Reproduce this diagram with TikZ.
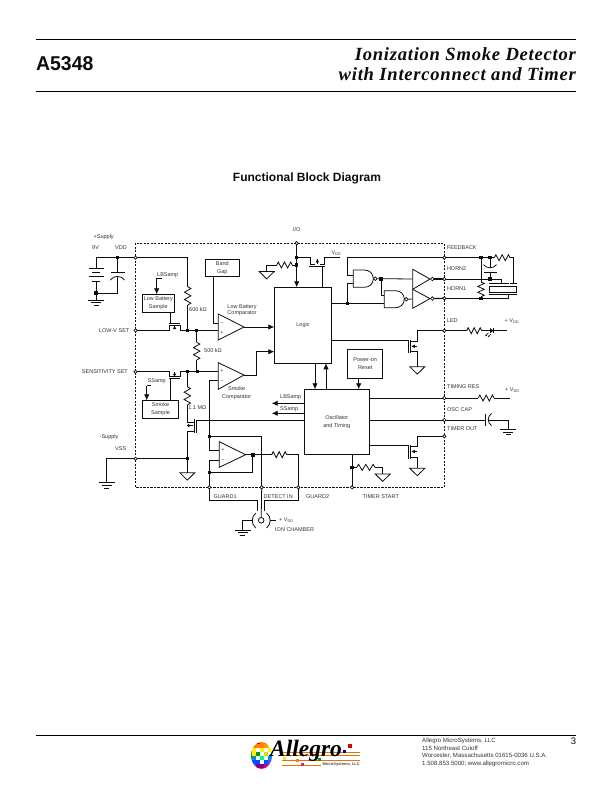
\documentclass[tikz,border=0pt]{standalone}
\usepackage{fontspec}
\setmainfont{Liberation Sans}
\newfontfamily\serifbi{Liberation Serif}[BoldItalicFont={* Bold Italic}]
\newfontfamily\serifwide{Liberation Serif}[BoldItalicFont={* Bold Italic},LetterSpace=4]
\usetikzlibrary{arrows.meta,calc,shapes.geometric}
\definecolor{ink}{gray}{0.05}
\definecolor{labelgray}{gray}{0.2}
\tikzset{
  wire/.style={draw=ink,line width=0.8pt},
  boxed/.style={draw=ink,line width=0.8pt,fill=white},
  lbl/.style={font=\fontsize{5.5}{6.7}\selectfont,text=labelgray,inner sep=0pt,align=center},
  lbll/.style={lbl,anchor=west},
  lblr/.style={lbl,anchor=east},
  pin/.style={circle,draw=ink,fill=white,line width=0.7pt,minimum size=3.4pt,inner sep=0pt},
  junction/.style={rectangle,fill=ink,minimum size=3.4pt,inner sep=0pt},
  bubble/.style={circle,draw=ink,fill=white,line width=0.7pt,minimum size=3.6pt,inner sep=0pt},
  sig/.style={wire,-{Latex[length=6pt,width=5.4pt]}},
  tri/.style={draw=ink,line width=0.8pt,fill=white,line join=miter},
}
% zig-zag resistors between two named points
\newcommand{\resH}[2]{\draw[wire] (#1) -- ($(#1)!0.1!(#2)+(0,-3)$) -- ($(#1)!0.3!(#2)+(0,3)$) -- ($(#1)!0.5!(#2)+(0,-3)$) -- ($(#1)!0.7!(#2)+(0,3)$) -- ($(#1)!0.9!(#2)+(0,-3)$) -- (#2);}
\newcommand{\resV}[2]{\draw[wire] (#1) -- ($(#1)!0.1!(#2)+(3.2,0)$) -- ($(#1)!0.3!(#2)+(-3.2,0)$) -- ($(#1)!0.5!(#2)+(3.2,0)$) -- ($(#1)!0.7!(#2)+(-3.2,0)$) -- ($(#1)!0.9!(#2)+(3.2,0)$) -- (#2);}
% three-plate earth and open-triangle logic ground
\newcommand{\earth}[1]{\draw[wire] ($(#1)+(-8,0)$) -- ++(16,0) ($(#1)+(-5,2.6)$) -- ++(10,0) ($(#1)+(-2.5,5.2)$) -- ++(5,0);}
\newcommand{\trignd}[1]{\draw[wire] ($(#1)+(-7.5,0)$) -- ++(15,0) -- ($(#1)+(0,7.4)$) -- cycle;}
% gate symbols
\newcommand{\nandgate}[5]{% name, left x, top y, bottom y, tip x
  \draw[tri] (#2,#3) -- ({#5-9},#3) .. controls ({#5-3.5},#3) and (#5,{#3+(#4-#3)*0.22}) .. (#5,{(#3+#4)/2}) .. controls (#5,{#4-(#4-#3)*0.22}) and ({#5-3.5},#4) .. ({#5-9},#4) -- (#2,#4) -- cycle;
  \node[bubble] (#1) at ({#5+2},{(#3+#4)/2}) {};}
\newcommand{\opamp}[5]{% left x, top y, bottom y, tip x, tip y
  \draw[tri] (#1,#2) -- (#4,#5) -- (#1,#3) -- cycle;}
\begin{document}
\begin{tikzpicture}[x=1pt,y=-1pt]
\useasboundingbox (0,0) rectangle (612,792);
\fill[white] (0,0) rectangle (612,792);

% page header
\draw[black,line width=0.8pt] (36,39) -- (576,39) (36,91.5) -- (576,91.5);
\node[anchor=west,inner sep=0pt,font=\fontsize{20}{22}\selectfont\bfseries,text=ink,xscale=0.97] (partno) at (36,63.5) {A5348};
\node[anchor=east,inner sep=0pt,font=\fontsize{18.6}{20}\serifwide\bfseries\itshape,text=ink] (titlea) at (576,54.5) {Ionization Smoke Detector};
\node[anchor=east,inner sep=0pt,font=\fontsize{18.6}{20}\serifwide\bfseries\itshape,text=ink] (titleb) at (576,74.5) {with Interconnect and Timer};
\node[inner sep=0pt,font=\fontsize{12}{14}\selectfont\bfseries,text=ink] (heading) at (307,178) {Functional Block Diagram};

% chip outline
\draw[ink,line width=0.8pt,dash pattern=on 2.2pt off 1.3pt] (135.5,243.2) rectangle (444.3,487.3);

% named points
\coordinate (pVDD) at (135.5,257.7);
\coordinate (pLOWV) at (135.5,330.3);
\coordinate (pSENS) at (135.5,371.7);
\coordinate (pVSS) at (135.5,458.7);
\coordinate (pIO) at (296.7,243.2);
\coordinate (pFB) at (444.3,257.7);
\coordinate (pH2) at (444.3,279);
\coordinate (pH1) at (444.3,298.3);
\coordinate (pLED) at (444.3,330.7);
\coordinate (pTR) at (444.3,398);
\coordinate (pOC) at (444.3,420);
\coordinate (pTO) at (444.3,436.3);
\coordinate (pG1) at (209.3,487.3);
\coordinate (pDI) at (261.7,487.3);
\coordinate (pG2) at (298.3,487.3);
\coordinate (pTS) at (352,487.3);

% supply, battery and filter capacitor
\draw[wire] (96,257.7) -- (pVDD);
\draw[wire] (96,257.7) -- (96,268.5) (88.5,268.5) -- (103.5,268.5) (92,272.8) -- (100,272.8) (88.5,276.8) -- (103.5,276.8) (92,281) -- (100,281) (96,281) -- (96,300);
\earth{96,300}
\draw[wire] (117.3,257.7) -- (117.3,272.3) (110.5,272.3) -- (124.5,272.3);
\draw[wire] (110.5,280) .. controls (113,275.2) and (121.5,275.2) .. (124.5,280);
\draw[wire] (117.3,276.4) -- (117.3,293.2) -- (96,293.2);
\node[junction] (j1) at (117.3,257.7) {};
\node[junction,minimum size=4pt] (j2) at (96,292.8) {};
\draw[wire] (pVDD) -- (187.7,257.7) -- (187.7,286.7);
\resV{187.7,286.7}{187.7,305}
\draw[wire] (187.7,305) -- (187.7,330.3);

% low battery section
\node[boxed,minimum width=32pt,minimum height=18pt,inner sep=0pt,lbl,text=labelgray] (lbs) at (158.3,303.3) {Low Battery\\[0.6pt]Sample};
\draw[wire] (pLOWV) -- (169.3,330.3) -- (169.3,325.4) -- (180,325.4) -- (180,330.3) -- (218.3,330.3);
\draw[wire] (169.3,323.4) -- (180,323.4);
\draw[wire] (170.3,312.3) -- (170.3,323.4);
\draw[wire] (174.6,325.4) -- (174.6,329);
\fill[ink] (172.9,329) -- (176.3,329) -- (174.6,326) -- cycle;
\draw[wire] (156.7,278) -- (161.5,278);
\draw[sig] (156.7,278) -- (156.7,294.3);
\node[lbll] (lbsamp) at (157,275) {LBSamp};
\node[lbll] (r600) at (189,309.2) {600 kΩ};
\node[lbll] (r500) at (204,351) {500 kΩ};
\node[lbl] (lbc) at (242,310.2) {Low Battery\\Comparator};
\node[junction] (j3) at (187.7,330.3) {};
\node[junction] (j4) at (196.7,330.3) {};
\draw[wire] (196.7,330.3) -- (196.7,342.3);
\resV{196.7,342.3}{196.7,360}
\draw[wire] (196.7,360) -- (196.7,371.7);

% band gap reference
\node[boxed,minimum width=34pt,minimum height=17.4pt,inner sep=0pt,lbl,text=labelgray] (bg) at (222.3,268) {Band\\[0.8pt]Gap};
\draw[wire] (213.3,276.7) -- (213.3,323.7) -- (218.3,323.7);

% comparators
\opamp{218.3}{314}{340}{244}{327}
\node[lbl] at (222,323.7) {−};
\node[lbl] at (222,332.5) {+};
\draw[sig] (244,327) -- (274.3,327);
\opamp{218.3}{362.7}{389.3}{244}{375}
\node[lbl] at (222,370.5) {+};
\node[lbl] at (222,381) {−};
\draw[sig] (244,375) -- (256.7,375) -- (256.7,351.7) -- (274.3,351.7);

% sensitivity section
\draw[wire] (pSENS) -- (169.3,371.7) -- (169.3,376.6) -- (180,376.6) -- (180,371.7) -- (218.3,371.7);
\draw[wire] (169.3,378.6) -- (180,378.6);
\draw[wire] (174.6,372) -- (174.6,376);
\fill[ink] (172.9,375.2) -- (176.3,375.2) -- (174.6,372.2) -- cycle;
\node[boxed,minimum width=36.4pt,minimum height=18.4pt,inner sep=0pt,lbl,text=labelgray] (ssb) at (160.5,409.5) {Smoke\\[1.2pt]Sample};
\draw[wire] (170.7,378.6) -- (170.7,400.3);
\draw[wire] (151,385.5) -- (146.7,385.5);
\draw[sig] (146.7,385.5) -- (146.7,400.3);
\node[lbll] (ssamp) at (147.5,381) {SSamp};
\node[junction] (j5) at (187.3,371.7) {};
\node[junction] (j6) at (197.3,371.7) {};
\draw[wire] (187.3,371.7) -- (187.3,386.7);
\resV{187.3,386.7}{187.3,405}
\draw[wire] (187.3,405) -- (187.3,422.5) -- (194.4,422.5);
\node[lbll] (r11) at (188.2,408) {1.1 MΩ};
\node[lbl] (sc) at (236.7,393.5) {Smoke\\[1.4pt]Comparator};

% reset transistor below the sensitivity divider
\draw[wire] (194.4,418.5) -- (194.4,432.5) (196.6,420.3) -- (196.6,432.5);
\draw[wire] (196.6,420.3) -- (304.3,420.3);
\draw[wire] (187.3,431.7) -- (194.4,431.7) (187.3,431.7) -- (187.3,472.7);
\draw[wire] (187.3,425.6) -- (193,425.6);
\fill[ink] (187.8,423.8) -- (187.8,427.4) -- (191,425.6) -- cycle;
\trignd{187.3,472.7}
\draw[wire] (pVSS) -- (187.3,458.7);
\node[junction] (j7) at (187.3,458.7) {};
\draw[wire] (pVSS) -- (106.7,458.7) -- (106.7,482.7);
\earth{106.7,482.7}

% guard amplifier and detect input
\draw[wire] (218.3,380) -- (209.3,380) -- (209.3,450.7) -- (219.3,450.7);
\node[junction] (j8) at (209.3,436.7) {};
\draw[wire] (209.3,436.7) -- (261.7,436.7) -- (pDI);
\opamp{219.3}{441.7}{467.3}{245.7}{454.7}
\node[lbl] at (223,449.7) {+};
\node[lbl] at (223,460.2) {−};
\draw[wire] (245.7,454.7) -- (271.7,454.7);
\resH{271.7,454.7}{286.7,454.7}
\draw[wire] (286.7,454.7) -- (298.3,454.7) -- (pG2);
\node[junction,minimum size=4pt] (j9) at (252.7,454.7) {};
\draw[wire] (252.7,454.7) -- (252.7,472.7) -- (209.3,472.7);
\draw[wire] (219.3,460) -- (209.3,460) -- (pG1);
\node[junction] (j10) at (209.3,472.7) {};

% ion chamber
\draw[wire] (pG1) -- (209.3,500.7) -- (257.7,500.7) -- (257.7,511);
\draw[wire] (pG2) -- (298.3,500.7) -- (264.7,500.7) -- (264.7,511);
\draw[wire] (pDI) -- (261.2,517.4);
\draw[wire] (261.2,520.3) circle[radius=2.8];
\draw[wire] (255.8,513) .. controls (251,517) and (251,524) .. (255.8,528);
\draw[wire] (266.6,513) .. controls (271.4,517) and (271.4,524) .. (266.6,528);
\draw[wire] (252.6,520.3) -- (242.7,520.3) -- (242.7,530);
\earth{242.7,530}
\draw[wire] (269.8,520.3) -- (275.7,520.3);
\node[lbll] at (279,520.3) {+ V\textsubscript{\fontsize{3.8}{4}\selectfont DD}};
\node[lbll] at (275,530) {ION CHAMBER};

% logic block and its connections
\node[boxed,minimum width=57.4pt,minimum height=76pt,inner sep=0pt,lbl,text=labelgray] (logic) at (303,325.3) {Logic};
\draw[sig] (pIO) -- (296.7,287.3);
\node[junction] (j11) at (296.7,257.7) {};
\node[junction] (j12) at (296.7,265) {};
\draw[wire] (296.7,265) -- (292.3,265);
\resH{292.3,265}{276.7,265}
\draw[wire] (276.7,265) -- (266.7,265) -- (266.7,271.5);
\trignd{266.7,271.5}

% supply switch above the logic block
\draw[wire] (296.7,257.7) -- (310,257.7) -- (310,264) -- (315,264);
\draw[wire] (320,264) -- (324,264) -- (324,257.7) -- (340,257.7);
\draw[wire] (309.3,266.2) -- (324.6,266.2);
\draw[wire] (322.3,266.2) -- (322.3,287.3);
\draw[wire] (317.3,264) -- (317.3,259);
\fill[ink] (315.6,262.4) -- (319,262.4) -- (317.3,259) -- cycle;
\node[lbll] at (331.4,253) {V\textsubscript{\fontsize{3.8}{4}\selectfont DD}};

% oscillator and power-on reset
\node[boxed,minimum width=65pt,minimum height=65pt,inner sep=0pt,lbl,text=labelgray] (osc) at (336.8,421.8) {Oscillator\\[1.6pt]and Timing};
\node[boxed,minimum width=35pt,minimum height=29pt,inner sep=0pt,lbl,text=labelgray] (por) at (365.2,363.8) {Power-on\\[1.2pt]Reset};
\draw[sig] (315,363.3) -- (315,389.3);
\draw[sig] (326,389.3) -- (326,363.3);
\draw[sig] (358.7,378.3) -- (358.7,389.3);
\draw[sig] (304.3,403.3) -- (271.7,403.3);
\draw[sig] (304.3,413.3) -- (271.7,413.3);
\node[lbll] at (280,397.3) {LBSamp};
\node[lbll] at (280,409.3) {SSamp};

% NAND gates and horn drivers
\draw[wire] (pFB) -- (347.3,257.7) -- (347.3,275.7) -- (353.3,275.7);
\draw[wire] (353.3,283.3) -- (347.3,283.3) -- (347.3,303.3);
\draw[wire] (331.7,303.3) -- (384.3,303.3);
\node[junction] (j13) at (347.3,303.3) {};
\nandgate{b1}{353.3}{270}{287.3}{373.3}
\nandgate{b2}{384.3}{290.7}{307.7}{404.3}
\draw[wire] (b1.east) -- (412.7,279);
\node[junction] (j14) at (381,279) {};
\draw[wire] (381,279) -- (381,295) -- (384.3,295);
\draw[wire] (b2.east) -- (412.7,299);
\draw[tri] (412.7,269.3) -- (430,279) -- (412.7,289.3) -- cycle;
\draw[tri] (412.7,289.3) -- (430,298.6) -- (412.7,308.3) -- cycle;
\node[bubble] (b3) at (432.3,279) {};
\node[bubble] (b4) at (432.3,298.5) {};
\draw[wire,line width=1.2pt] (b3.east) -- (pH2);
\draw[wire,line width=1.2pt] (b4.east) -- (pH1);

% horn network outside the chip
\draw[wire] (pFB) -- (494.3,257.7);
\resH{494.3,257.7}{510,257.7}
\draw[wire] (510,257.7) -- (513.3,257.7) -- (513.3,283.4);
\draw[wire] (pH2) -- (501,279) -- (501,283.4);
\draw[wire] (pH1) -- (508,298.3) -- (508,294.3);
\draw[wire] (481,257.7) -- (481,282);
\resV{481,282}{481,296.7}
\draw[wire] (481,296.7) -- (481,298.3);
\draw[wire] (490,257.7) -- (490,266.8);
\draw[wire] (483.5,264.6) .. controls (486,268.8) and (494,268.8) .. (496.5,264.6);
\draw[wire] (483.5,272.6) -- (496.5,272.6) (490,272.6) -- (490,279);
\draw[wire] (489.3,283.4) -- (508.5,283.4) (510,283.4) -- (516.7,283.4);
\draw[wire] (489.3,294.3) -- (516.7,294.3);
\draw[boxed] (489.3,286) rectangle (516.7,292.3);
\node[junction] (j15) at (481,257.7) {};
\node[junction] (j16) at (490,257.7) {};
\node[junction] (j17) at (490,279) {};
\node[junction] (j18) at (481,298.3) {};

% LED driver
\draw[wire] (331.7,340.3) -- (408.4,340.3);
\draw[wire] (408.4,339.8) -- (408.4,352.5) (410.6,339.8) -- (410.6,352.5);
\draw[wire] (410.6,341.5) -- (417.3,341.5) -- (417.3,330.7) -- (466.7,330.7);
\draw[wire] (410.6,351.3) -- (417.3,351.3) -- (417.3,366.7);
\draw[wire] (411.5,346.3) -- (417.3,346.3);
\fill[ink] (411.5,346.3) -- (414.8,344.6) -- (414.8,348) -- cycle;
\trignd{417.3,366.7}
\resH{466.7,330.7}{481.7,330.7}
\draw[wire] (481.7,330.7) -- (506.7,330.7);
\fill[ink] (490.2,328.2) -- (490.2,333.2) -- (493.4,330.7) -- cycle;
\draw[wire,line width=1pt] (493.6,328) -- (493.6,333.4);
\draw[wire,line width=0.6pt,-{Latex[length=1.8pt,width=1.8pt]}] (491,334) -- (487.7,337.3);
\draw[wire,line width=0.6pt,-{Latex[length=1.8pt,width=1.8pt]}] (488.4,333) -- (485.1,336.3);

% timing pins
\draw[wire] (369.3,398) -- (478.3,398);
\resH{478.3,398}{494,398}
\draw[wire] (494,398) -- (510,398);
\draw[wire] (369.3,420) -- (485.7,420);
\draw[wire] (485.7,413.5) -- (485.7,425.7);
\draw[wire] (491.5,413.5) .. controls (487.2,416.5) and (487.2,422.5) .. (491.5,425.7);
\draw[wire] (488.6,420) -- (508.3,420) -- (508.3,429.3);
\earth{508.3,429.3}
\draw[wire] (369.3,445.3) -- (408.4,445.3);
\draw[wire] (408.4,444.8) -- (408.4,458.5) (410.6,444.8) -- (410.6,458.5);
\draw[wire] (410.6,446.6) -- (417.3,446.6) -- (417.3,436.3) -- (pTO);
\draw[wire] (410.6,457) -- (417.3,457) -- (417.3,468.3);
\draw[wire] (411.5,451.5) -- (417.3,451.5);
\fill[ink] (411.5,451.5) -- (414.8,449.8) -- (414.8,453.2) -- cycle;
\trignd{417.3,468.3}
\draw[wire] (352,454.3) -- (pTS);
\node[junction] (j19) at (352,467.3) {};
\draw[wire] (352,467.3) -- (356.7,467.3);
\resH{356.7,467.3}{375,467.3}
\draw[wire] (375,467.3) -- (382.7,467.3) -- (382.7,474);
\trignd{382.7,474}

% pins on the chip outline
\foreach \p in {pVDD,pLOWV,pSENS,pVSS,pIO,pFB,pH2,pH1,pLED,pTR,pOC,pTO,pG1,pDI,pG2,pTS}
  \node[pin] at (\p) {};

% pin labels
\node[lbll] at (93.5,237) {+Supply};
\node[lbll] at (92,247.5) {9V};
\node[lbll] at (115,247.5) {VDD};
\node[lblr] at (129.5,330.5) {LOW-V SET};
\node[lblr] at (128,371.7) {SENSITIVITY SET};
\node[lbll] at (99.5,437) {-Supply};
\node[lbll] at (115,449) {VSS};
\node[lbl] at (296.7,230) {I/O};
\node[lbll] at (446.8,247.7) {FEEDBACK};
\node[lbll] at (446.8,269) {HORN2};
\node[lbll] at (446.8,289) {HORN1};
\node[lbll] at (446.8,321) {LED};
\node[lbll] at (447,387) {TIMING RES};
\node[lbll] at (447,409.5) {OSC CAP};
\node[lbll] at (447,428.5) {TIMER OUT};
\node[lbll] at (213.5,497) {GUARD1};
\node[lbll] at (263.5,497) {DETECT IN};
\node[lbll] at (306,497) {GUARD2};
\node[lbll] at (362.5,497) {TIMER START};
\node[lbll] at (504.5,321.5) {+ V\textsubscript{\fontsize{3.8}{4}\selectfont DD}};
\node[lbll] at (505,390.5) {+ V\textsubscript{\fontsize{3.8}{4}\selectfont DD}};

% page footer
\draw[black,line width=0.8pt] (36,735.5) -- (576,735.5);
\node[anchor=north west,inner sep=0pt,align=left,font=\fontsize{6.1}{7.4}\selectfont,text=labelgray] (addr) at (422,738.2) {Allegro MicroSystems, LLC\\115 Northeast Cutoff\\Worcester, Massachusetts 01615-0036 U.S.A.\\1.508.853.5000; www.allegromicro.com};
\node[inner sep=0pt,font=\fontsize{9.5}{10}\selectfont,text=ink] (pageno) at (573.5,741.5) {3};

% company logo: mosaic disc, rules, accent squares and wordmark
\begin{scope}
\clip (261.5,755.5) ellipse[x radius=10.5,y radius=13.5];
\foreach \x/\y/\c in {
 250/742/red,254/742/red,258/742/red,262/742/orange,266/742/orange,270/742/orange,
 250/746/red,254/746/orange,258/746/orange,262/746/orange,266/746/orange!80!yellow,270/746/yellow,
 250/750/magenta!80!red,254/750/yellow,258/750/white,262/750/yellow,266/750/white,270/750/yellow,
 250/754/green!70!black,254/754/yellow,258/754/green!60!black,262/754/white,266/754/yellow!80!green,270/754/white,
 250/758/green!60!black,254/758/cyan!70!blue,258/758/white,262/758/green!50!cyan,266/758/white,270/758/cyan!70!blue,
 250/762/cyan!70!blue,254/762/blue!70!cyan,258/762/blue!70!cyan,262/762/white,266/762/blue!70!cyan,270/762/blue!70,
 250/766/violet,254/766/blue!70,258/766/violet,262/766/violet,266/766/magenta!70!blue,270/766/magenta,
 250/770/magenta,254/770/magenta,258/770/magenta,262/770/magenta,266/770/magenta,270/770/magenta}
  \fill[\c] (\x-2,\y-2) rectangle (\x+2,\y+2);
\end{scope}
\foreach \y in {752,755,760,765} \draw[orange!90!black,line width=0.7pt] (282,\y) -- (360,\y);
\foreach \x/\y/\c/\s in {350/746/red!85!black/3.4,344/751/blue!60!black/3,319/759/green!60!black/3,302/764/magenta!85!black/3,297/760/orange/3,284/758/yellow!90!orange/3}
  \fill[\c] (\x-\s/2,\y-\s/2) rectangle (\x+\s/2,\y+\s/2);
\fill[white] (321,761) rectangle (361,768);
\node[inner sep=0pt,font=\fontsize{23.5}{26}\serifbi\bfseries\itshape,text=black] (brand) at (306,750.5) {Allegro};
\node[anchor=east,inner sep=0pt,font=\fontsize{4}{4}\selectfont\bfseries,text=black!70] (brandb) at (360,764.5) {MicroSystems, LLC};
\end{tikzpicture}
\end{document}
